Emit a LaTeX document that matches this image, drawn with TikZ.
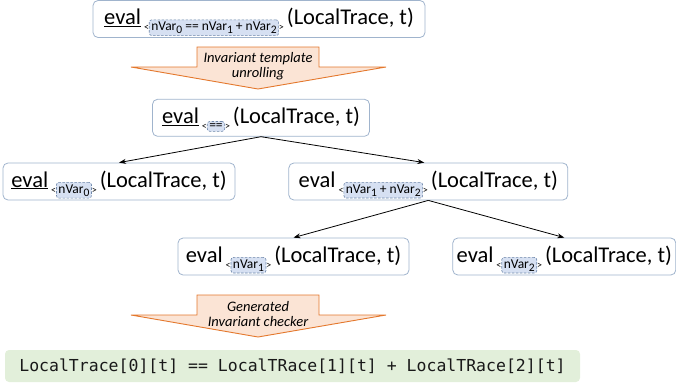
\documentclass[tikz,border=0pt]{standalone}
\usepackage{fontspec}
\setmainfont{Carlito}
\setmonofont{DejaVu Sans Mono}
\usetikzlibrary{arrows.meta,positioning}
\definecolor{boxline}{RGB}{160,180,205}
\definecolor{tagfill}{RGB}{214,224,242}
\definecolor{tagline}{RGB}{110,135,170}
\definecolor{arrowfill}{RGB}{251,228,213}
\definecolor{arrowline}{RGB}{228,120,45}
\definecolor{codefill}{RGB}{226,239,218}
\tikzset{
  >={Stealth[length=7pt,width=5pt]},
  evalbox/.style={draw=boxline,solid,line width=0.8pt,rounded corners=5pt,fill=white,minimum height=37pt,text height=24pt,text depth=13pt,inner sep=0pt,font=\fontsize{22.5}{22.5}\selectfont},
  vtag/.style={draw=tagline,dash pattern=on 2.5pt off 1.5pt,line width=0.6pt,rounded corners=2.5pt,fill=tagfill,inner sep=2pt,minimum width=0pt,minimum height=0pt,text height=,text depth=},
  bigarrow/.style={draw=arrowline,line width=0.9pt,fill=arrowfill},
  arrowtxt/.style={align=center,font=\fontsize{14.5}{15.5}\selectfont\itshape},
  link/.style={->,line width=0.8pt},
  codebox/.style={fill=codefill,rounded corners=4pt,minimum width=575pt,minimum height=32pt,text=black!90,font=\ttfamily\fontsize{16.5}{16.5}\selectfont}
}
\newcommand{\sub}[1]{\raisebox{-3pt}{\fontsize{11.5}{11.5}\selectfont#1}}
\newcommand{\ang}[1]{\raisebox{-6pt}{\fontsize{10}{10}\selectfont#1}}
\newcommand{\vt}[1]{\hspace{3pt}\ang{<}\tikz[baseline={([yshift=6pt]v.base)}]\node[vtag](v){\fontsize{13.5}{13.5}\selectfont#1};\ang{>}\hspace{3pt}}
\newcommand{\lt}{(LocalTrace, t)}

\begin{document}
\begin{tikzpicture}[x=1pt,y=1pt]
\useasboundingbox (0,0) rectangle (676,-383);
\node[evalbox,minimum width=332pt] (top) at (259,-19) {\underline{eval}\vt{nVar\sub{0} == nVar\sub{1} + nVar\sub{2}}\lt};
\node[evalbox,minimum width=217pt,below=61pt of top,xshift=2pt] (mid) {\underline{eval}\vt{==}\lt};
\node[evalbox,minimum width=232pt] (lhs) at (119,-181.5) {\underline{eval}\vt{nVar\sub{0}}\lt};
\node[evalbox,minimum width=279pt,right=53pt of lhs] (rhs) {eval\vt{nVar\sub{1} + nVar\sub{2}}\lt};
\node[evalbox,minimum width=231pt] (lo1) at (293.5,-256.5) {eval\vt{nVar\sub{1}}\lt};
\node[evalbox,minimum width=223pt,right=43pt of lo1] (lo2) {eval\vt{nVar\sub{2}}\lt};
\node[codebox] (code) at (292.5,-366) {LocalTrace[0][t] == LocalTRace[1][t] + LocalTRace[2][t]};
\foreach \ytop/\nm/\txt in {47/unroll/{Invariant template\\unrolling},295/gencheck/{Generated\\Invariant checker}}{
  \draw[bigarrow] (197,-\ytop) -- (319,-\ytop) -- (319,-\ytop-20) -- (386,-\ytop-20) -- (258,-\ytop-42) -- (131,-\ytop-20) -- (197,-\ytop-20) -- cycle;
  \node[arrowtxt] (\nm) at (258,-\ytop-19) {\txt};
}
\draw[link] (mid.south) -- (lhs.north);
\draw[link] (mid.south) -- ([xshift=-4pt]rhs.north);
\draw[link] (rhs.south) -- (lo1.north);
\draw[link] (rhs.south) -- (lo2.north);
\end{tikzpicture}
\end{document}
